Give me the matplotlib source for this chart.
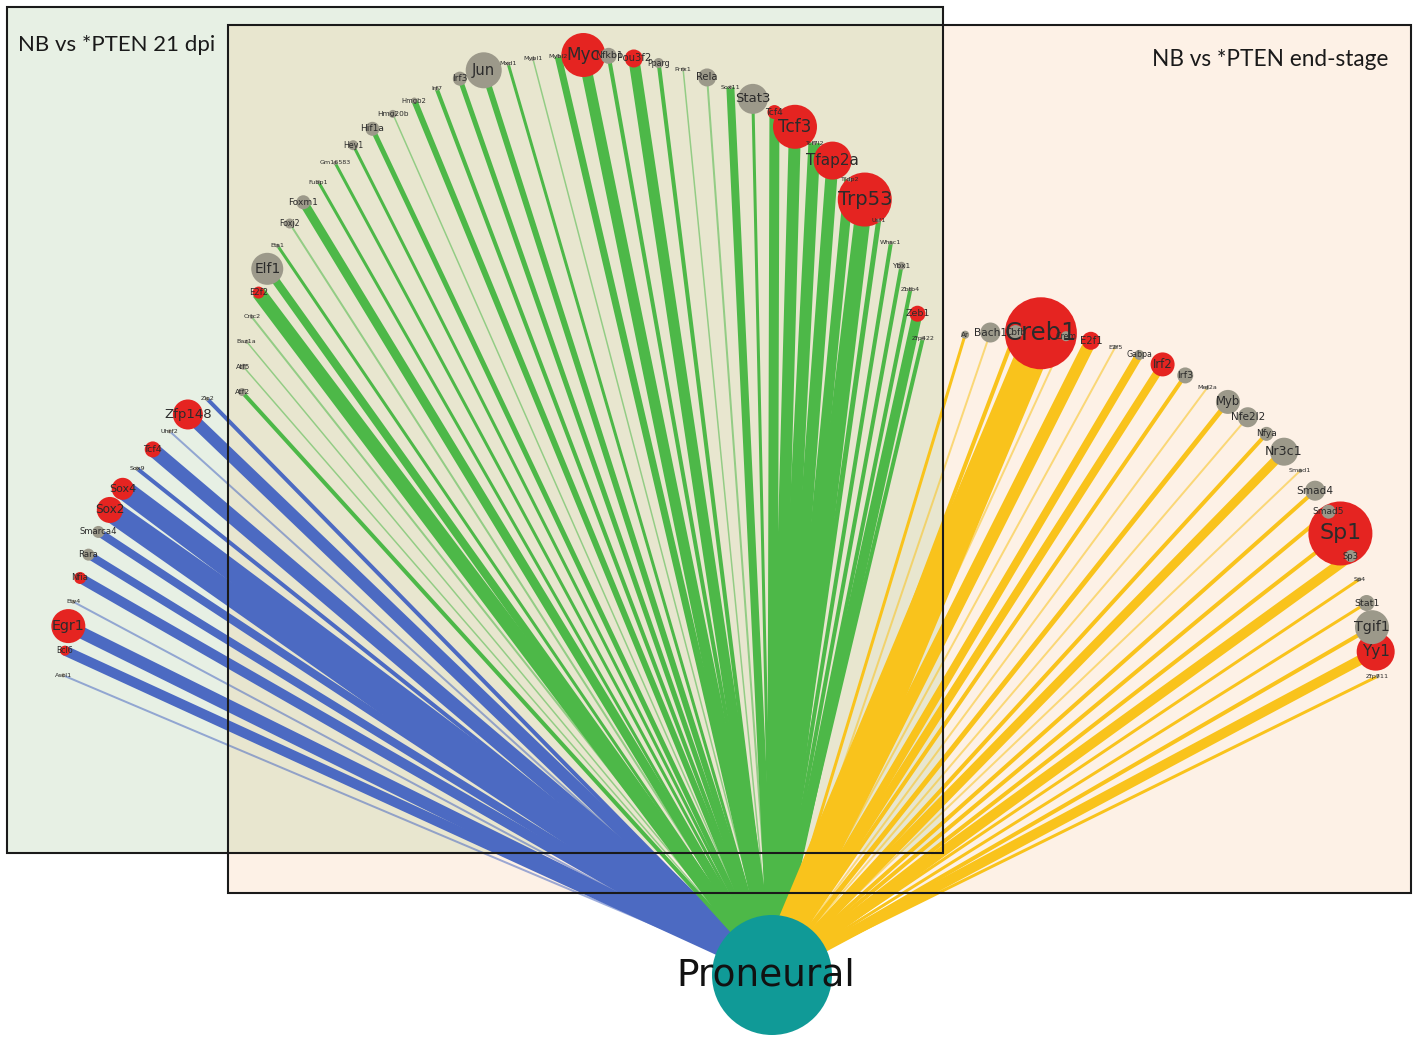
import numpy as np
import matplotlib
matplotlib.use('Agg')
import matplotlib.pyplot as plt
from matplotlib.patches import Circle, Rectangle

# Transcription factors linked to the Proneural signature, one list per comparison group
blue_genes = ['Ascl1', 'Bcl6', 'Egr1', 'Etv4', 'Nfia', 'Rara', 'Smarca4', 'Sox2',
              'Sox4', 'Sox9', 'Tcf4', 'Uhrf2', 'Zfp148', 'Zic2']
blue_weights = [2, 10, 12, 2, 10, 8, 8, 22, 20, 4, 14, 2, 12, 4]
blue_sizes = [2, 5, 17, 2, 6, 6, 6, 13, 11, 2, 8, 2, 15, 2]
blue_hits = [0, 1, 1, 0, 1, 0, 0, 1, 1, 0, 1, 0, 1, 0]

green_genes = ['Atf2', 'Atf5', 'Baz1a', 'Crtc2', 'E2f2', 'Elf1', 'Ets1', 'Foxj2', 'Foxm1',
               'Fubp1', 'Gm16583', 'Hey1', 'Hif1a', 'Hmg20b', 'Hmgb2', 'Irf7', 'Irf3', 'Jun',
               'Mxd1', 'Mybl1', 'Mybl2', 'Myc', 'Nfkb1', 'Pou3f2', 'Pparg', 'Prrx1', 'Rela',
               'Sox11', 'Stat3', 'Tcf4', 'Tcf3', 'Tcf7l2', 'Tfap2a', 'Tfdp2', 'Trp53', 'Usf1',
               'Whsc1', 'Ybx1', 'Zbtb4', 'Zeb1', 'Zfp422']
green_weights = [4, 1.5, 1.5, 2, 14, 8, 3, 2, 9, 3, 3, 3, 5, 1.5, 6, 4, 5, 6, 3, 1.5, 7,
                 11, 4, 11, 4, 1.5, 2, 8, 3, 10, 12, 12, 12, 10, 16, 5, 4, 4, 4, 10, 4]
green_sizes = [4, 3, 2, 2, 6, 16, 2, 5, 7, 2, 2, 5, 7, 4, 3, 2, 7, 18, 2, 2, 2, 22, 8, 9,
               5, 2, 9, 2, 15, 7, 22, 2, 19, 2, 27, 2, 2, 4, 2, 8, 2]
green_hits = [0, 0, 0, 0, 1, 0, 0, 0, 0, 0, 0, 0, 0, 0, 0, 0, 0, 0, 0, 0, 0, 1, 0, 1, 0,
              0, 0, 0, 0, 1, 1, 0, 1, 0, 1, 0, 0, 0, 0, 1, 0]

yellow_genes = ['Ar', 'Bach1', 'Cbfb', 'Creb1', 'Crem', 'E2f1', 'E2f5', 'Gabpa', 'Irf2',
                'Irf3', 'Mef2a', 'Myb', 'Nfe2l2', 'Nfya', 'Nr3c1', 'Smad1', 'Smad4', 'Smad5',
                'Sp1', 'Sp3', 'Sp4', 'Stat1', 'Tgif1', 'Yy1', 'Zfp711']
yellow_weights = [3, 2, 4, 32, 2, 12, 2, 8, 8, 4, 2, 5, 2, 4, 9, 2, 4, 4, 4, 10, 3, 3, 4, 10, 3]
yellow_sizes = [4, 10, 7, 36, 5, 9, 2, 5, 12, 8, 2, 12, 10, 7, 14, 2, 10, 7, 32, 6, 2, 8,
                17, 19, 2]
yellow_hits = [0, 0, 0, 1, 0, 1, 0, 0, 1, 0, 0, 0, 0, 0, 0, 0, 0, 0, 1, 0, 0, 0, 0, 1, 0]

W, H = 1413, 1038
hub = (772, 975)

fig = plt.figure(figsize=(W / 100, H / 100), dpi=100)
ax = fig.add_axes([0, 0, 1, 1])
ax.set_xlim(0, W)
ax.set_ylim(H, 0)
ax.axis('off')

# background panels: 21 dpi box, end-stage box and their overlap
ax.add_patch(Rectangle((7, 7), 936, 846, facecolor='#e7f0e4', edgecolor='none', zorder=0))
ax.add_patch(Rectangle((228, 25), 1183, 868, facecolor='#fdf1e6', edgecolor='none', zorder=0))
ax.add_patch(Rectangle((228, 25), 715, 828, facecolor='#e8e6cf', edgecolor='none', zorder=0))


def arc_layout(n, center, rx, ry, start, stop):
    ang = np.radians(np.linspace(start, stop, n))
    return center[0] + rx * np.cos(ang), center[1] - ry * np.sin(ang)


def draw_group(genes, weights, sizes, hits, xs, ys, color):
    for x, y, w in zip(xs, ys, weights):
        alpha = 0.55 if w <= 2 else 1.0
        ax.plot([hub[0], x], [hub[1], y], color=color, lw=w * 0.72, alpha=alpha,
                solid_capstyle='butt', zorder=1)
    # bigger nodes first so small ones stay visible on top
    order = np.argsort(sizes)[::-1]
    for k, i in enumerate(order):
        fc = '#e52421' if hits[i] else '#9c998a'
        ax.add_patch(Circle((xs[i], ys[i]), sizes[i], facecolor=fc, edgecolor='none',
                            zorder=3 + k * 0.001))
    for g, x, y, r in zip(genes, xs, ys, sizes):
        ax.text(x, y, g, ha='center', va='center', fontsize=3.8 + 0.38 * r,
                color='#2b2b2b', zorder=4)


bx, by = arc_layout(len(blue_genes), (425, 688), 362, 362, 178, 127)
gx, gy = arc_layout(len(green_genes), (585, 398), 343, 343, 179, 10)
yx, yy = arc_layout(len(yellow_genes), (1010, 692), 368, 360, 97, 2.5)

draw_group(blue_genes, blue_weights, blue_sizes, blue_hits, bx, by, '#4c6ac2')
draw_group(green_genes, green_weights, green_sizes, green_hits, gx, gy, '#4db848')
draw_group(yellow_genes, yellow_weights, yellow_sizes, yellow_hits, yx, yy, '#f9c31c')

# box outlines sit over the edges
ax.add_patch(Rectangle((7, 7), 936, 846, facecolor='none', edgecolor='#1a1a1a', lw=1.5, zorder=2))
ax.add_patch(Rectangle((228, 25), 1183, 868, facecolor='none', edgecolor='#1a1a1a', lw=1.5, zorder=2))

ax.text(18, 45, 'NB vs *PTEN 21 dpi', fontsize=16, family='Lato', va='center', ha='left',
        color='#1a1a1a', zorder=5)
ax.text(1388, 60, 'NB vs *PTEN end-stage', fontsize=16.3, family='Lato', va='center', ha='right',
        color='#1a1a1a', zorder=5)

# central hub
ax.add_patch(Circle(hub, 60, facecolor='#109a97', edgecolor='none', zorder=5))
ax.text(766, 975, 'Proneural', fontsize=27, ha='center', va='center', color='#111111', zorder=6)

plt.savefig('out.png', dpi=100)
